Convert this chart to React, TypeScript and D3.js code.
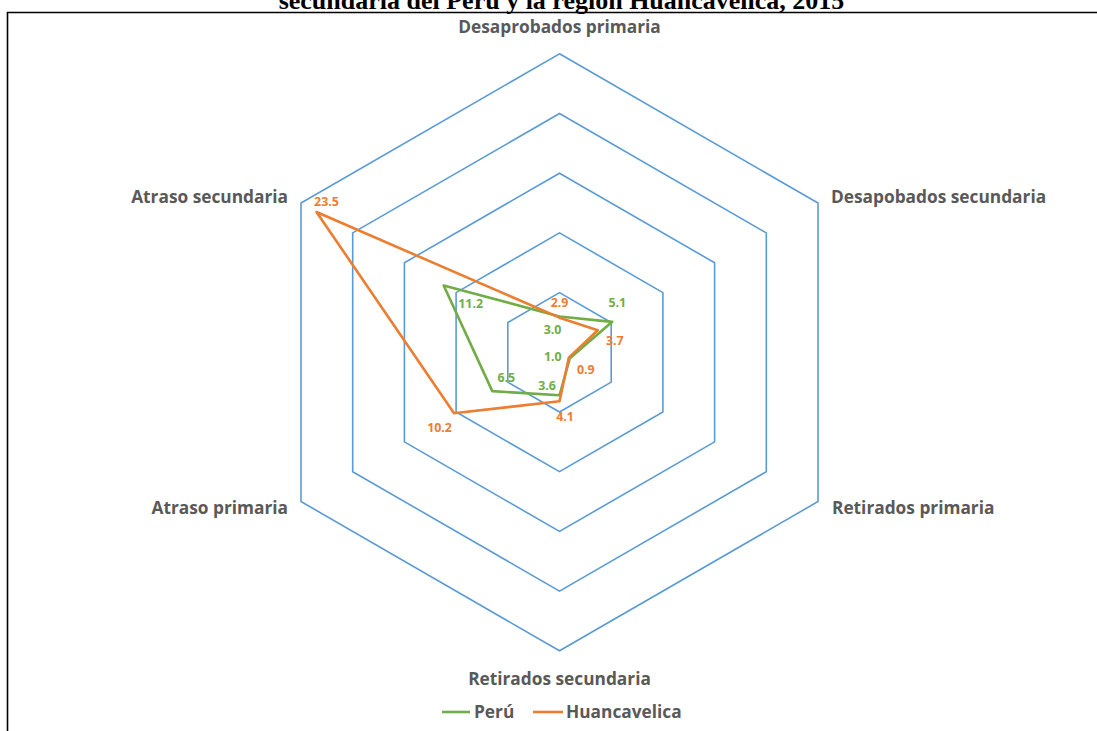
import React from "react";
import * as d3 from "d3";

const categories = [
  "Desaprobados primaria",
  "Desapobados secundaria",
  "Retirados primaria",
  "Retirados secundaria",
  "Atraso primaria",
  "Atraso secundaria",
];
const peru = [3.0, 5.1, 1.0, 3.6, 6.5, 11.2];
const huancavelica = [2.9, 3.7, 0.9, 4.1, 10.2, 23.5];
const ringTicks = [5, 10, 15, 20, 25];
const seriesNames = ["Perú", "Huancavelica"];
const titleText = "secundaria del Perú y la región Huancavelica, 2015";

// label offsets (dx, dy) relative to each point
const peruLabelOffsets = [[-7, 13.5], [5, -19], [-17, -2], [-12.5, -10], [14, -13], [27, 18]];
const huancLabelOffsets = [[0, -15], [17, 10.5], [17, 12], [5.5, 15.5], [-14.5, 14], [10, -10]];

const W = 1097;
const H = 731;
const cx = 559.5;
const cy = 352.3;
const R = 298.5;

const GREEN = "#70AD47";
const ORANGE = "#ED7D31";
const GRID = "#5B9BD5";
const LABEL = "#595959";
const FONT = "'Open Sans', 'DejaVu Sans', sans-serif";
const CAT_SIZE = 17.3;

export default function App() {
  const r = d3.scaleLinear().domain([0, 25]).range([0, R]);
  const angle = d3
    .scalePoint<number>()
    .domain(d3.range(categories.length + 1))
    .range([0, 2 * Math.PI]);
  const pt = (i: number, v: number): [number, number] => {
    const a = angle(i)!;
    return [cx + r(v) * Math.sin(a), cy - r(v) * Math.cos(a)];
  };
  const closed = d3.line<[number, number]>().curve(d3.curveLinearClosed);

  const ringPath = (v: number) => closed(categories.map((_, i) => pt(i, v)))!;
  const seriesPath = (vals: number[]) => closed(vals.map((v, i) => pt(i, v)))!;

  const labelPos: { x: number; y: number; anchor: string }[] = [
    { x: cx, y: 27, anchor: "middle" },
    { x: 831, y: 197, anchor: "start" },
    { x: 832, y: 508, anchor: "start" },
    { x: cx, y: 679, anchor: "middle" },
    { x: 288, y: 508, anchor: "end" },
    { x: 288, y: 197, anchor: "end" },
  ];

  return (
    <div style={{ position: "absolute", left: 0, top: 0 }}>
      <svg width={W} height={H} style={{ display: "block", background: "#fff" }}>
        <rect x={0} y={0} width={W} height={H} fill="#fff" />
        <text
          x={cx + 2}
          y={8.5}
          textAnchor="middle"
          fontFamily="'Liberation Serif', 'Times New Roman', serif"
          fontWeight="bold"
          fontSize={26}
          fill="#000"
        >
          {titleText}
        </text>
        {/* chart border */}
        <path d={`M7.5,${H}V12.5H${W}`} fill="none" stroke="#000" strokeWidth={1.6} />

        {ringTicks.map((t) => (
          <path key={t} d={ringPath(t)} fill="none" stroke={GRID} strokeWidth={1.6} />
        ))}

        <path d={seriesPath(peru)} fill="none" stroke={GREEN} strokeWidth={2.6} strokeLinejoin="round" />
        <path d={seriesPath(huancavelica)} fill="none" stroke={ORANGE} strokeWidth={2.6} strokeLinejoin="round" />

        {peru.map((v, i) => {
          const [x, y] = pt(i, v);
          return (
            <text key={"p" + i} x={x + peruLabelOffsets[i][0]} y={y + peruLabelOffsets[i][1]} dy="0.35em"
              textAnchor="middle" fontFamily={FONT} fontWeight="bold" fontSize={12.4} fill={GREEN}>
              {v.toFixed(1)}
            </text>
          );
        })}
        {huancavelica.map((v, i) => {
          const [x, y] = pt(i, v);
          return (
            <text key={"h" + i} x={x + huancLabelOffsets[i][0]} y={y + huancLabelOffsets[i][1]} dy="0.35em"
              textAnchor="middle" fontFamily={FONT} fontWeight="bold" fontSize={12.4} fill={ORANGE}>
              {v.toFixed(1)}
            </text>
          );
        })}

        {categories.map((c, i) => (
          <text key={c} x={labelPos[i].x} y={labelPos[i].y} dy="0.35em" textAnchor={labelPos[i].anchor as any}
            fontFamily={FONT} fontWeight="bold" fontSize={CAT_SIZE} fill={LABEL}>
            {c}
          </text>
        ))}

        {/* legend */}
        <line x1={442} x2={470} y1={712} y2={712} stroke={GREEN} strokeWidth={2.6} />
        <text x={474} y={712} dy="0.35em" fontFamily={FONT} fontWeight="bold" fontSize={CAT_SIZE} fill={LABEL}>
          {seriesNames[0]}
        </text>
        <line x1={533} x2={563} y1={712} y2={712} stroke={ORANGE} strokeWidth={2.6} />
        <text x={566} y={712} dy="0.35em" fontFamily={FONT} fontWeight="bold" fontSize={CAT_SIZE} fill={LABEL}>
          {seriesNames[1]}
        </text>
      </svg>
    </div>
  );
}
